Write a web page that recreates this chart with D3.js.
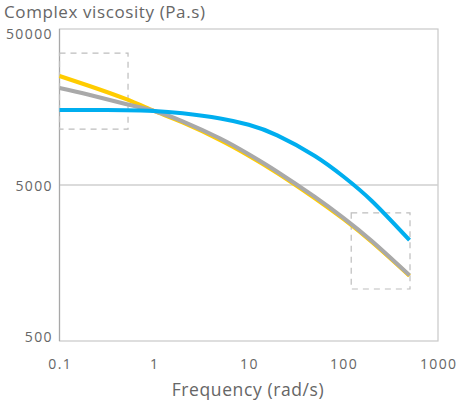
<!DOCTYPE html>
<html>
<head>
<meta charset="utf-8">
<script src="https://cdn.jsdelivr.net/npm/d3@7"></script>
<style>
  body { margin: 0; background: #fff; }
  svg { display: block; font-family: "Open Sans", "Noto Sans", sans-serif; }
</style>
</head>
<body>
<div id="chart"></div>
<script>
// frequency (rad/s)
var freq = [0.1, 0.2, 0.5, 1, 2, 5, 10, 20, 50, 100, 200, 500];
// complex viscosity (Pa.s)
var yellowSeries = [24990, 21720, 17800, 14910, 12580, 9690, 7705, 5970, 4109, 3028, 2156, 1309];
var graySeries   = [20930, 19020, 16530, 14910, 12800, 9920, 7866, 6085, 4190, 3081, 2191, 1321];
var blueSeries   = [15130, 15130, 15090, 14910, 14410, 13350, 12160, 10410, 7672, 5669, 3949, 2214];

var xTicks = [0.1, 1, 10, 100, 1000];
var xTickLabels = ['0.1', '1', '10', '100', '1000'];
var yTicks = [500, 5000, 50000];
var yTickLabels = ['500', '5000', '50000'];

// dashed highlight boxes [x0, x1, y0, y1] in data units
var boxes = [
    [0.1, 0.53, 11400, 35000],
    [121, 506, 1077, 3310]
];

var width = 459, height = 407;
var margin = {left: 59.5, right: 21, top: 29, bottom: 66};

var svg = d3.select('#chart')
    .append('svg')
        .attr('width', width)
        .attr('height', height);

var x = d3.scaleLog()
    .domain([0.1, 1000])
    .range([margin.left, width - margin.right]);

var y = d3.scaleLog()
    .domain([500, 50000])
    .range([height - margin.bottom, margin.top]);

// frame
svg.append('rect')
    .attr('x', x(0.1))
    .attr('y', y(50000))
    .attr('width', x(1000) - x(0.1))
    .attr('height', y(500) - y(50000))
    .attr('fill', 'none')
    .attr('stroke', '#c9c9c9')
    .attr('stroke-width', 1.2);

// gridline at 5000
svg.append('line')
    .attr('x1', x(0.1)).attr('x2', x(1000))
    .attr('y1', y(5000)).attr('y2', y(5000))
    .attr('stroke', '#cfcfcf')
    .attr('stroke-width', 1.5);

// left axis line
svg.append('line')
    .attr('x1', x(0.1)).attr('x2', x(0.1))
    .attr('y1', y(50000)).attr('y2', y(500))
    .attr('stroke', '#a8a8a8')
    .attr('stroke-width', 1.2);

// y tick labels
svg.selectAll('.ylbl')
    .data(yTicks)
    .enter().append('text')
        .attr('class', 'ylbl')
        .attr('x', margin.left - 6.5)
        .attr('y', function(d, i) { return y(d) + (i == 0 ? -4 : i == 2 ? 5 : 1); })
        .attr('dy', '0.35em')
        .attr('text-anchor', 'end')
        .attr('fill', '#666')
        .attr('font-size', 14)
        .attr('letter-spacing', 1.4)
        .text(function(d, i) { return yTickLabels[i]; });

// x tick labels
svg.selectAll('.xlbl')
    .data(xTicks)
    .enter().append('text')
        .attr('class', 'xlbl')
        .attr('x', function(d) { return x(d) + 0.7; })
        .attr('y', 364)
        .attr('dy', '0.35em')
        .attr('text-anchor', 'middle')
        .attr('fill', '#666')
        .attr('font-size', 14)
        .attr('letter-spacing', 1.4)
        .text(function(d, i) { return xTickLabels[i]; });

// titles
svg.append('text')
    .attr('x', 4)
    .attr('y', 12)
    .attr('dy', '0.35em')
    .attr('fill', '#666')
    .attr('font-size', 17)
    .attr('letter-spacing', 0.6)
    .text('Complex viscosity (Pa.s)');

svg.append('text')
    .attr('x', 248)
    .attr('y', 390)
    .attr('dy', '0.35em')
    .attr('text-anchor', 'middle')
    .attr('fill', '#666')
    .attr('font-size', 17.5)
    .attr('letter-spacing', 0.6)
    .text('Frequency (rad/s)');

// dashed boxes
svg.selectAll('.box')
    .data(boxes)
    .enter().append('rect')
        .attr('class', 'box')
        .attr('x', function(d) { return x(d[0]); })
        .attr('y', function(d) { return y(d[3]); })
        .attr('width', function(d) { return x(d[1]) - x(d[0]); })
        .attr('height', function(d) { return y(d[2]) - y(d[3]); })
        .attr('fill', 'none')
        .attr('stroke', '#bdbdbd')
        .attr('stroke-width', 1.2)
        .attr('stroke-dasharray', '6,5');

// curves
var line = d3.line()
    .x(function(d) { return x(d[0]); })
    .y(function(d) { return y(d[1]); })
    .curve(d3.curveNatural);

var series = [
    {values: yellowSeries, color: '#ffcc00'},
    {values: graySeries,   color: '#a9a9a9'},
    {values: blueSeries,   color: '#00aeef'}
];

for (var i in series) {
    var s = series[i];
    svg.append('path')
        .datum(d3.zip(freq, s.values))
        .attr('d', line)
        .attr('fill', 'none')
        .attr('stroke', s.color)
        .attr('stroke-width', 4);
}
</script>
</body>
</html>
